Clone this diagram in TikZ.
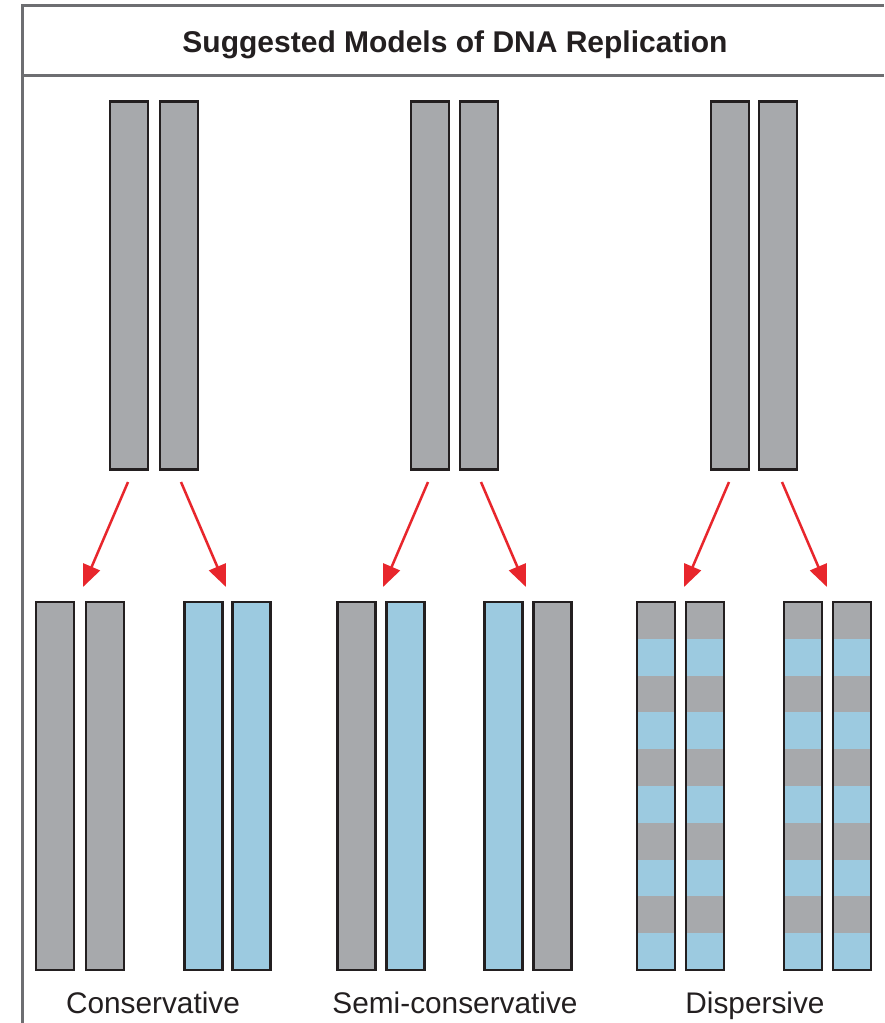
\documentclass[tikz,border=0pt]{standalone}
\usepackage{fontspec}
\setmainfont{Liberation Sans}
\usetikzlibrary{arrows.meta}
\definecolor{strandgray}{HTML}{A7A9AC}
\definecolor{strandblue}{HTML}{9CCAE0}
\definecolor{framegray}{HTML}{6D6E71}
\definecolor{arrowred}{HTML}{E8262C}
\definecolor{inkblack}{HTML}{231F20}
\begin{document}
\begin{tikzpicture}[x=1pt,y=-1pt,
  frameline/.style={draw=framegray, line width=3pt},
  strand/.style={draw=inkblack, line width=2.5pt, rectangle, inner sep=0pt,
    minimum width=38pt, minimum height=368pt},
  oldstrand/.style={strand, fill=strandgray},
  newstrand/.style={strand, fill=strandblue},
  mixstrand/.style={strand, fill=strandgray, path picture={
      \foreach \k in {1,3,5,7,9}{
        \fill[strandblue] ([yshift=-\k*36.8pt]path picture bounding box.north west)
          rectangle ([yshift=-\k*36.8pt-36.8pt]path picture bounding box.north east);}}},
  reparrow/.style={draw=arrowred, line width=2.5pt, -{Triangle[length=22pt,width=18pt]}},
  titletext/.style={font=\bfseries\fontsize{30}{35}\selectfont, text=inkblack},
  labeltext/.style={font=\fontsize{29.8}{35}\selectfont, text=inkblack}
]
\useasboundingbox (0,0) rectangle (884,1023);
\fill[white] (0,0) rectangle (884,1023);

% frame
\draw[frameline] (22,1023) -- (22,5) -- (884,5);
\draw[frameline] (22,75) -- (884,75);
\node[titletext, anchor=base] (title) at (455,52) {Suggested Models of DNA Replication};

% parent strands
\node[oldstrand] (p1a) at (129,285.5) {};
\node[oldstrand] (p1b) at (179,285.5) {};
\node[oldstrand] (p2a) at (430,285.5) {};
\node[oldstrand] (p2b) at (479,285.5) {};
\node[oldstrand] (p3a) at (730,285.5) {};
\node[oldstrand] (p3b) at (778,285.5) {};

% conservative
\node[oldstrand] (c1a) at (55,786) {};
\node[oldstrand] (c1b) at (105,786) {};
\node[newstrand] (c2a) at (203.5,786) {};
\node[newstrand] (c2b) at (251.5,786) {};
% semi-conservative
\node[oldstrand] (s1a) at (356.5,786) {};
\node[newstrand] (s1b) at (405.5,786) {};
\node[newstrand] (s2a) at (503.5,786) {};
\node[oldstrand] (s2b) at (552.5,786) {};
% dispersive
\node[mixstrand] (d1a) at (656,786) {};
\node[mixstrand] (d1b) at (705,786) {};
\node[mixstrand] (d2a) at (803,786) {};
\node[mixstrand] (d2b) at (852,786) {};

% arrows
\coordinate (a1s) at (128,482);  \coordinate (a1e) at (83,587);
\coordinate (a2s) at (181,482);  \coordinate (a2e) at (226,587);
\coordinate (a3s) at (428,482);  \coordinate (a3e) at (383,587);
\coordinate (a4s) at (481,482);  \coordinate (a4e) at (526,587);
\coordinate (a5s) at (729,482);  \coordinate (a5e) at (684,587);
\coordinate (a6s) at (782,482);  \coordinate (a6e) at (827,587);
\draw[reparrow] (a1s) -- (a1e);
\draw[reparrow] (a2s) -- (a2e);
\draw[reparrow] (a3s) -- (a3e);
\draw[reparrow] (a4s) -- (a4e);
\draw[reparrow] (a5s) -- (a5e);
\draw[reparrow] (a6s) -- (a6e);

% labels
\node[labeltext, anchor=base] (l1) at (153,1013) {Conservative};
\node[labeltext, anchor=base] (l2) at (455,1013) {Semi-conservative};
\node[labeltext, anchor=base] (l3) at (755,1013) {Dispersive};
\end{tikzpicture}
\end{document}
